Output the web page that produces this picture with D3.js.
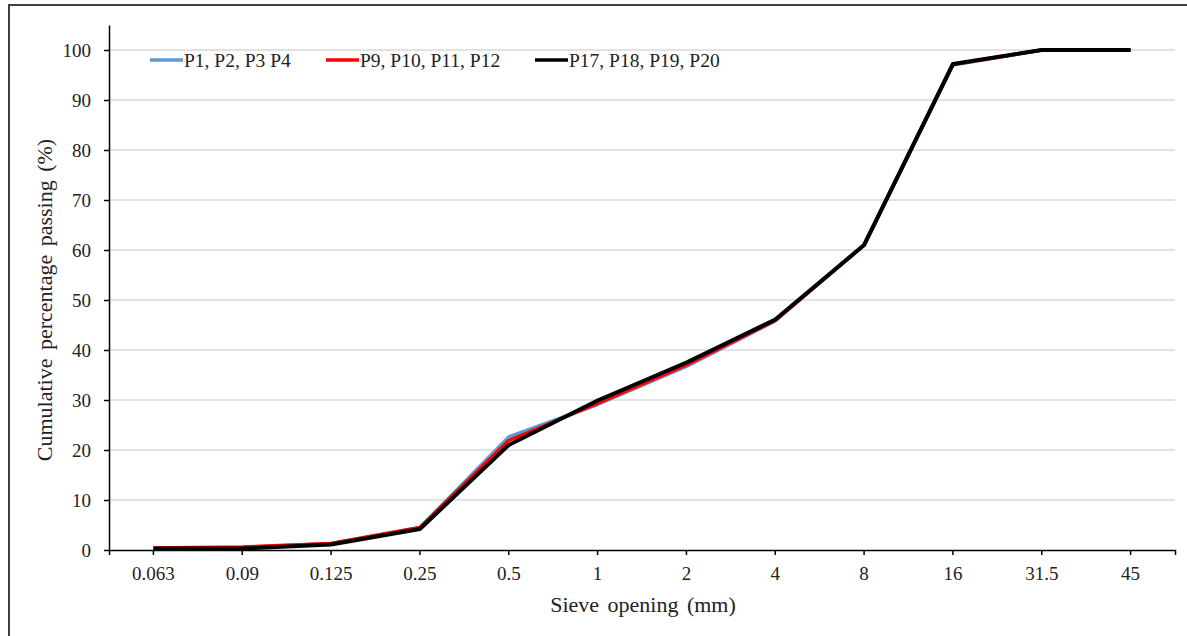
<!DOCTYPE html>
<html>
<head>
<meta charset="utf-8">
<script src="https://cdn.jsdelivr.net/npm/d3@7"></script>
<style>
  body { margin: 0; background: #fff; }
  text { font-family: "Liberation Serif", "Times New Roman", serif; }
</style>
</head>
<body>
<div id="chart"></div>
<script>
// sieve sizes (categorical axis) and the three gradings
var sieves = ["0.063", "0.09", "0.125", "0.25", "0.5", "1", "2", "4", "8", "16", "31.5", "45"];
var p1to4 = [0.3, 0.5, 1.3, 4.5, 22.6, 29.1, 36.7, 45.8, 61, 97, 100, 100];
var p9to12 = [0.4, 0.6, 1.3, 4.5, 21.9, 29.3, 37.0, 45.9, 61, 97.1, 100, 100];
var p17to20 = [0.3, 0.3, 1.1, 4.2, 21.0, 29.9, 37.5, 46.1, 61, 97.2, 100, 100];
var seriesNames = ["P1, P2, P3 P4", "P9, P10, P11, P12", "P17, P18, P19, P20"];
var seriesColors = ["#5b9bd5", "#ff0000", "#000000"];
var yTicks = [0, 10, 20, 30, 40, 50, 60, 70, 80, 90, 100];

var W = 1187, H = 636;
var margin = {top: 25, right: 12, bottom: 86, left: 109},
    width = W - margin.left - margin.right,
    height = H - margin.top - margin.bottom;

var svg = d3.select("#chart")
  .append("svg")
    .attr("width", W)
    .attr("height", H);

// outer frame of the chart area
svg.append("rect")
  .attr("x", 9).attr("y", 5)
  .attr("width", W + 10).attr("height", H + 10)
  .attr("fill", "none")
  .attr("stroke", "#404040")
  .attr("stroke-width", 2);

var g = svg.append("g")
  .attr("transform", "translate(" + margin.left + "," + margin.top + ")");

var x = d3.scaleBand()
  .domain(sieves)
  .range([0, width]);

var y = d3.scaleLinear()
  .domain([0, 105])
  .range([height, 0]);

// gridlines
g.append("g")
  .selectAll("line")
  .data(yTicks.filter(d => d > 0))
  .enter()
  .append("line")
    .attr("x1", 0)
    .attr("x2", width)
    .attr("y1", d => y(d))
    .attr("y2", d => y(d))
    .attr("stroke", "#d9d9d9")
    .attr("stroke-width", 1.3);

// y axis
var yAxis = g.append("g")
  .call(d3.axisLeft(y).tickValues(yTicks).tickSize(5).tickSizeOuter(0).tickPadding(13));
yAxis.select(".domain").attr("stroke", "#000").attr("stroke-width", 1.5);
yAxis.selectAll(".tick line").attr("stroke", "#000").attr("stroke-width", 1.5);
yAxis.selectAll("text")
  .style("font-family", "Liberation Serif")
  .style("font-size", "19px")
  .attr("fill", "#222");

// x axis
var xAxis = g.append("g")
  .attr("transform", "translate(0," + height + ")")
  .call(d3.axisBottom(x).tickSize(5).tickSizeOuter(5).tickPadding(12));
xAxis.select(".domain").attr("stroke", "#000").attr("stroke-width", 1.5);
xAxis.selectAll(".tick line").attr("stroke", "#000").attr("stroke-width", 1.5);
xAxis.selectAll("text")
  .style("font-family", "Liberation Serif")
  .style("font-size", "19px")
  .attr("fill", "#222");

// lines
var line = d3.line()
  .x((d, i) => x(sieves[i]) + x.bandwidth() / 2)
  .y(d => y(d));

var allSeries = [p1to4, p9to12, p17to20];
var widths = [3.5, 3.5, 4];
allSeries.forEach(function(s, k) {
  g.append("path")
    .datum(s)
    .attr("d", line)
    .attr("fill", "none")
    .attr("stroke", seriesColors[k])
    .attr("stroke-width", widths[k])
    .attr("stroke-linejoin", "round");
});

// legend
var legendX = [41, 217, 426];
var legend = g.append("g").attr("transform", "translate(0," + (y(100) + 10) + ")");
seriesNames.forEach(function(name, k) {
  legend.append("line")
    .attr("x1", legendX[k]).attr("x2", legendX[k] + 33)
    .attr("y1", 0).attr("y2", 0)
    .attr("stroke", seriesColors[k])
    .attr("stroke-width", 3.5);
  legend.append("text")
    .attr("x", legendX[k] + 34)
    .attr("y", 0)
    .attr("dy", "0.35em")
    .style("font-size", "19.5px")
    .attr("fill", "#222")
    .text(name);
});

// axis titles
svg.append("text")
  .attr("transform", "rotate(-90)")
  .attr("x", -(margin.top + y(50)))
  .attr("y", 52)
  .style("text-anchor", "middle")
  .style("font-size", "22px")
  .style("word-spacing", "3px")
  .attr("fill", "#222")
  .text("Cumulative percentage passing (%)");

svg.append("text")
  .attr("x", 643)
  .attr("y", 612)
  .style("text-anchor", "middle")
  .style("font-size", "22px")
  .style("word-spacing", "3px")
  .attr("fill", "#222")
  .text("Sieve opening (mm)");
</script>
</body>
</html>
